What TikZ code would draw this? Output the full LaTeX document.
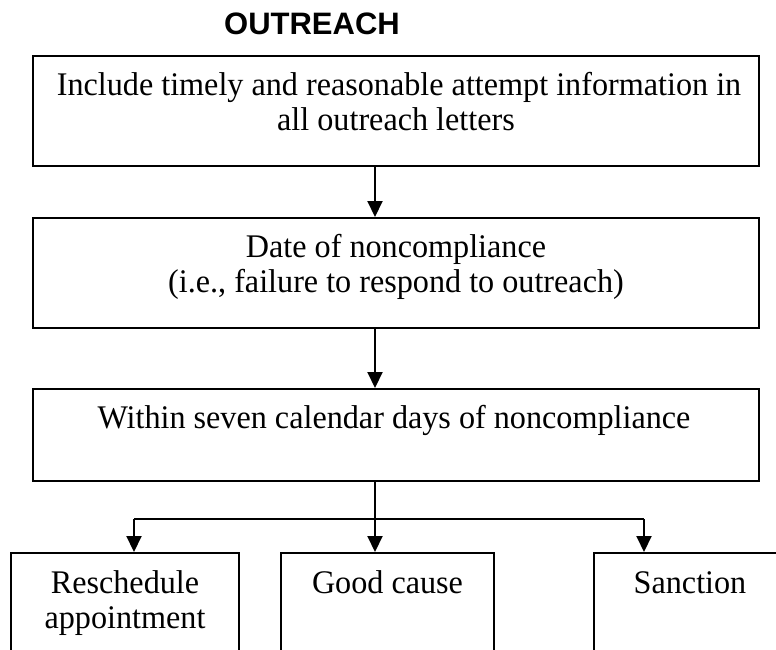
\documentclass[tikz,border=0pt]{standalone}
\usepackage{fontspec}
\setmainfont{Liberation Serif}[FakeStretch=0.975]
\newfontfamily\titlefont{Liberation Sans}
\usetikzlibrary{arrows.meta}
\begin{document}
\begin{tikzpicture}[x=1pt,y=-1pt,
  box/.style={draw=black,line width=2pt,rectangle,inner sep=0pt},
  txt/.style={anchor=base,inner sep=0pt,font=\fontsize{33}{36}\selectfont},
  conn/.style={line width=2pt},
  arr/.style={line width=2pt,-{Triangle[length=16pt,width=15pt]}}]
\useasboundingbox (0,0) rectangle (776,649);
\clip (0,0) rectangle (776,649);
\node[anchor=base,inner sep=0pt,font=\titlefont\bfseries\fontsize{31}{34}\selectfont] (title) at (312,34) {OUTREACH};
% boxes
\node[box,minimum width=726pt,minimum height=110pt] (b1) at (396,111) {};
\node[box,minimum width=726pt,minimum height=110pt] (b2) at (396,273) {};
\node[box,minimum width=726pt,minimum height=92pt] (b3) at (396,435) {};
\node[box,minimum width=228pt,minimum height=147pt] (b4) at (125,626.5) {};
\node[box,minimum width=213pt,minimum height=147pt] (b5) at (387.5,626.5) {};
\node[box,minimum width=206pt,minimum height=147pt] (b6) at (697,626.5) {};
% texts
\node[txt] (t1a) at (399,95) {Include timely and reasonable attempt information in};
\node[txt] (t1b) at (396,130) {all outreach letters};
\node[txt] (t2a) at (396,257) {Date of noncompliance};
\node[txt] (t2b) at (396,292) {(i.e., failure to respond to outreach)};
\node[txt] (t3) at (394,428) {Within seven calendar days of noncompliance};
\node[txt] (t4a) at (125,593) {Reschedule};
\node[txt] (t4b) at (125,628) {appointment};
\node[txt] (t5) at (387.5,593) {Good cause};
\node[txt] (t6) at (690,593) {Sanction};
% connectors
\coordinate (ax) at (375,0);
\coordinate (j) at (375,519);
\coordinate (jl) at (134,519);
\coordinate (jr) at (644,519);
\draw[arr] (ax |- b1.south) -- (ax |- b2.north);
\draw[arr] (ax |- b2.south) -- (ax |- b3.north);
\draw[conn] (ax |- b3.south) -- (j);
\draw[conn] (jl) -- (jr);
\draw[arr] (jl) -- (jl |- b4.north);
\draw[arr] (j) -- (j |- b5.north);
\draw[arr] (jr) -- (jr |- b6.north);
\end{tikzpicture}
\end{document}
